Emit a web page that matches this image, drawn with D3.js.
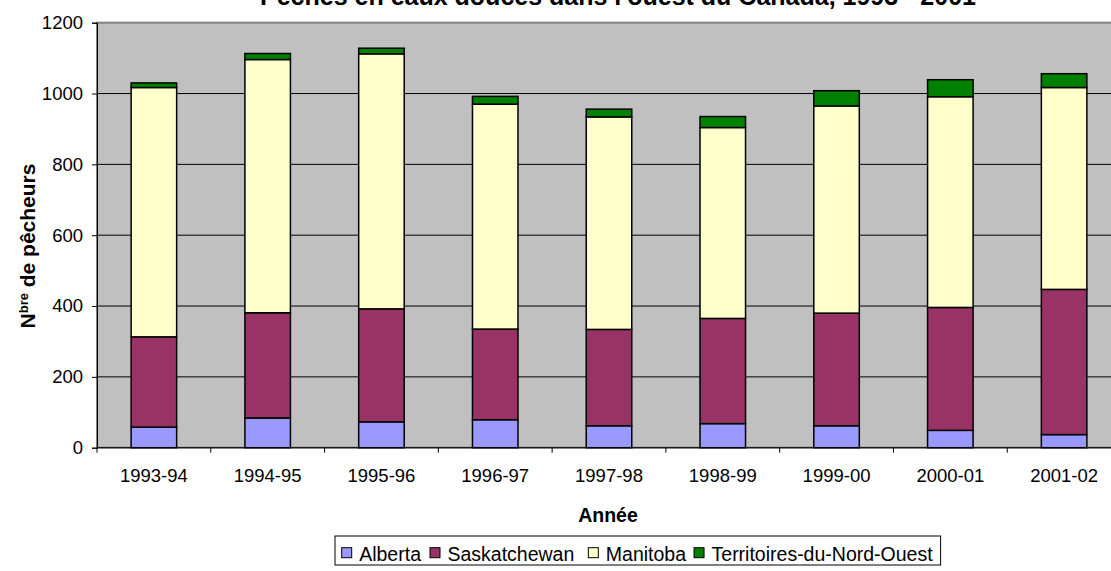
<!DOCTYPE html>
<html>
<head>
<meta charset="utf-8">
<script src="https://cdn.jsdelivr.net/npm/d3@7"></script>
<style>
  body { margin: 0; background: #fff; }
  text { font-family: "Liberation Sans", Arial, sans-serif; }
</style>
</head>
<body>
<script>
// données
var years = ['1993-94', '1994-95', '1995-96', '1996-97', '1997-98', '1998-99', '1999-00', '2000-01', '2001-02'];
var alberta = [58, 84, 73, 79, 62, 68, 62, 49, 37];
var saskatchewan = [255, 297, 319, 256, 272, 297, 318, 347, 410];
var manitoba = [704, 715, 720, 635, 600, 539, 585, 595, 570];
var territoires = [13, 17, 16, 22, 22, 31, 43, 48, 39];
var seriesNames = ['Alberta', 'Saskatchewan', 'Manitoba', 'Territoires-du-Nord-Ouest'];
var yTicks = [0, 200, 400, 600, 800, 1000, 1200];

var color = d3.scaleOrdinal()
    .domain(seriesNames)
    .range(['#9999FF', '#993366', '#FFFFCC', '#008000']);

var width = 1111, height = 571;
var plot = {left: 97, right: 1121, top: 22.7, bottom: 447.7};

var rows = years.map(function (y, i) {
    return {
        year: y,
        'Alberta': alberta[i],
        'Saskatchewan': saskatchewan[i],
        'Manitoba': manitoba[i],
        'Territoires-du-Nord-Ouest': territoires[i]
    };
});
var stacked = d3.stack().keys(seriesNames)(rows);

var xCat = d3.scaleBand().domain(years).range([plot.left, plot.right]);
var xBar = d3.scaleBand().domain(years).range([plot.left, plot.right])
    .paddingInner(0.6).paddingOuter(0.3);
var y = d3.scaleLinear().domain([0, 1200]).range([plot.bottom, plot.top]);

var svg = d3.select('body').append('svg')
    .attr('width', width)
    .attr('height', height);

svg.append('rect').attr('width', width).attr('height', height).attr('fill', '#fff');

// zone de tracé
svg.append('rect')
    .attr('x', plot.left).attr('y', plot.top)
    .attr('width', plot.right - plot.left).attr('height', plot.bottom - plot.top)
    .attr('fill', '#C0C0C0')
    .attr('stroke', '#808080')
    .attr('stroke-width', 2);

// grille
svg.append('g').selectAll('line')
    .data(yTicks.slice(1, -1))
    .enter().append('line')
    .attr('x1', plot.left).attr('x2', plot.right)
    .attr('y1', function (d) { return y(d); })
    .attr('y2', function (d) { return y(d); })
    .attr('stroke', '#000')
    .attr('stroke-width', 1);

// barres empilées
svg.append('g').selectAll('g')
    .data(stacked)
    .enter().append('g')
    .attr('fill', function (d) { return color(d.key); })
    .selectAll('rect')
    .data(function (d) { return d; })
    .enter().append('rect')
    .attr('x', function (d) { return xBar(d.data.year); })
    .attr('width', xBar.bandwidth())
    .attr('y', function (d) { return y(d[1]); })
    .attr('height', function (d) { return y(d[0]) - y(d[1]); })
    .attr('stroke', '#000')
    .attr('stroke-width', 1.5);

// axe Y
var yAxis = svg.append('g')
    .attr('transform', 'translate(' + plot.left + ',0)')
    .call(d3.axisLeft(y).tickValues(yTicks).tickFormat(d3.format('d')).tickSize(5).tickPadding(9));
yAxis.select('.domain').attr('stroke', '#000');
yAxis.selectAll('text').attr('font-size', '18.5px').attr('fill', '#000');

// axe X
var xAxis = svg.append('g')
    .attr('transform', 'translate(0,' + plot.bottom + ')')
    .call(d3.axisBottom(xBar).tickSize(0).tickPadding(21));
xAxis.select('.domain').remove();
xAxis.selectAll('text').attr('font-size', '18.5px').attr('fill', '#000');

svg.append('line')
    .attr('x1', plot.left).attr('x2', plot.right)
    .attr('y1', plot.bottom).attr('y2', plot.bottom)
    .attr('stroke', '#000');
svg.append('g').selectAll('line')
    .data(years)
    .enter().append('line')
    .attr('x1', function (d) { return xCat(d); })
    .attr('x2', function (d) { return xCat(d); })
    .attr('y1', plot.bottom).attr('y2', plot.bottom + 5)
    .attr('stroke', '#000');

// titre (coupé en haut comme dans l'original)
svg.append('text')
    .attr('x', 618).attr('y', 5)
    .attr('text-anchor', 'middle')
    .attr('font-size', '25px').attr('font-weight', 'bold')
    .text("Pêches en eaux douces dans l'ouest du Canada, 1993 - 2001");

// titres des axes
svg.append('text')
    .attr('x', (plot.left + plot.right) / 2 - 1).attr('y', 522)
    .attr('text-anchor', 'middle')
    .attr('font-size', '19.5px').attr('font-weight', 'bold')
    .text('Année');

var yl = svg.append('text')
    .attr('transform', 'translate(35,246) rotate(-90)')
    .attr('text-anchor', 'middle')
    .attr('font-size', '21px').attr('font-weight', 'bold');
yl.append('tspan').text('N');
yl.append('tspan').attr('font-size', '13px').attr('dy', -7).text('bre');
yl.append('tspan').attr('dy', 7).text(' de pêcheurs');

// légende
var legend = svg.append('g');
var box = legend.append('rect')
    .attr('fill', '#fff').attr('stroke', '#000').attr('stroke-width', 1);
var lx = 341.7;
var gaps = [9, 14, 8, 0];
seriesNames.forEach(function (name, i) {
    legend.append('rect')
        .attr('x', lx).attr('y', 547.7)
        .attr('width', 10).attr('height', 10)
        .attr('fill', color(name))
        .attr('stroke', '#000');
    var t = legend.append('text')
        .attr('x', lx + 17.5).attr('y', 560.5)
        .attr('font-size', '19.5px')
        .text(name);
    lx += 17.5 + t.node().getComputedTextLength() + gaps[i];
});
box.attr('x', 335).attr('y', 536).attr('width', lx + 8 - 335).attr('height', 29);
</script>
</body>
</html>
